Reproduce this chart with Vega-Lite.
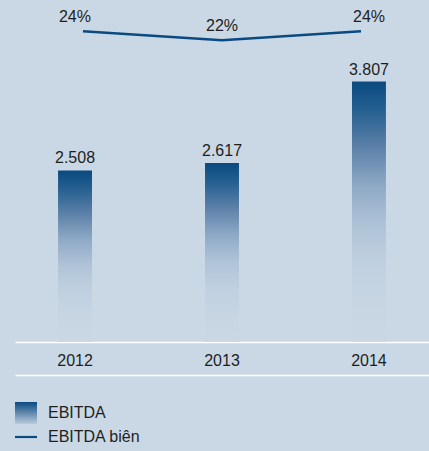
{
  "$schema": "https://vega.github.io/schema/vega-lite/v6.json",
  "width": 414,
  "height": 342,
  "autosize": {"type": "none"},
  "padding": {"left": 15, "top": 0, "right": 0, "bottom": 109},
  "background": "#cad8e5",
  "config": {
    "view": {"stroke": null},
    "font": "Liberation Sans",
    "locale": {"number": {"decimal": ",", "thousands": ".", "grouping": [3], "currency": ["", ""]}}
  },
  "data": {
    "values": [
      {"year": "2012", "ebitda": 2508, "margin": 0.24},
      {"year": "2013", "ebitda": 2617, "margin": 0.22},
      {"year": "2014", "ebitda": 3807, "margin": 0.24}
    ]
  },
  "resolve": {"scale": {"x": "independent", "y": "independent"}, "axis": {"x": "independent"}},
  "layer": [
    {
      "encoding": {
        "x": {
          "field": "year", "type": "nominal",
          "scale": {"type": "band", "paddingInner": 0.769, "paddingOuter": 0.293},
          "axis": {"orient": "bottom", "title": null, "domainColor": "#ffffff", "domainWidth": 1.5, "ticks": false,
                   "labelFont": "Liberation Sans", "labelFontSize": 16, "labelColor": "#1e1e1e", "labelPadding": 10, "labelAngle": 0}
        },
        "y": {"field": "ebitda", "type": "quantitative", "scale": {"domain": [0, 5000], "nice": false}, "axis": null}
      },
      "layer": [
        {
          "mark": {
            "type": "bar",
            "color": {
              "gradient": "linear", "x1": 0, "y1": 0, "x2": 0, "y2": 1,
              "stops": [
                {"offset": 0, "color": "#0a4a80"},
                {"offset": 0.1, "color": "#235e8f"},
                {"offset": 0.25, "color": "#5b80a8"},
                {"offset": 0.4, "color": "#8ea9c6"},
                {"offset": 0.55, "color": "#afc3d7"},
                {"offset": 0.7, "color": "#c0d0e0"},
                {"offset": 0.85, "color": "#c7d5e3"},
                {"offset": 1, "color": "#cad8e5"}
              ]
            }
          }
        },
        {
          "mark": {"type": "text", "baseline": "alphabetic", "dy": -7, "font": "Liberation Sans", "fontSize": 16, "color": "#1e1e1e"},
          "encoding": {"text": {"field": "ebitda", "type": "quantitative", "format": ",d"}}
        }
      ]
    },
    {
      "mark": {"type": "line", "strokeWidth": 2.5},
      "encoding": {
        "x": {
          "field": "year", "type": "nominal",
          "scale": {"type": "point", "padding": 0.489},
          "axis": {"orient": "bottom", "offset": 33, "title": null, "labels": false, "ticks": false, "domainColor": "#ffffff", "domainWidth": 1.5}
        },
        "y": {"field": "margin", "type": "quantitative", "scale": {"domain": [-0.4504, 0.3096], "nice": false, "zero": false}, "axis": null},
        "color": {
          "datum": "EBITDA biên",
          "scale": {"domain": ["EBITDA", "EBITDA biên"], "range": ["#0b4a80", "#0b4a80"]},
          "legend": {
            "orient": "none", "legendX": 0, "legendY": 402, "title": null, "padding": 0,
            "symbolSize": 484, "symbolType": "square",
            "labelFont": "Liberation Sans", "labelFontSize": 16, "labelColor": "#1e1e1e", "labelOffset": 11, "rowPadding": 2,
            "encode": {
              "symbols": {
                "update": {
                  "shape": {"signal": "datum.value === 'EBITDA' ? 'square' : 'M-1,-0.1H1V0.1H-1Z'"},
                  "fill": {"signal": "datum.value === 'EBITDA' ? {gradient: 'linear', x1: 0, y1: 0, x2: 0, y2: 1, stops: [{offset: 0, color: '#0a4a80'}, {offset: 1, color: '#b9cadd'}]} : '#0b4a80'"},
                  "stroke": {"value": "transparent"},
                  "strokeWidth": {"value": 0},
                  "opacity": {"value": 1},
                  "fillOpacity": {"value": 1}
                }
              }
            }
          }
        }
      }
    },
    {
      "mark": {"type": "text", "baseline": "alphabetic", "dy": -9, "font": "Liberation Sans", "fontSize": 16, "color": "#1e1e1e"},
      "encoding": {
        "x": {"field": "year", "type": "nominal", "scale": {"type": "point", "padding": 0.408}, "axis": null},
        "y": {"field": "margin", "type": "quantitative", "scale": {"domain": [-0.4504, 0.3096], "nice": false, "zero": false}, "axis": null},
        "text": {"field": "margin", "type": "quantitative", "format": ".0%"}
      }
    }
  ]
}
